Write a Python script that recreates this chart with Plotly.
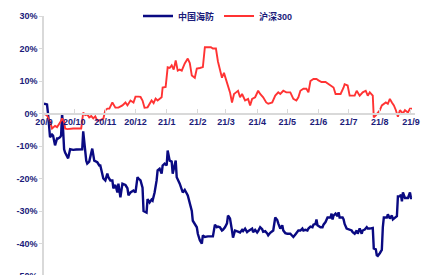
import plotly.graph_objects as go

hs300_dates = ["2020-09-01","2020-09-04","2020-09-07","2020-09-09","2020-09-12","2020-09-14","2020-09-17","2020-09-19","2020-09-21","2020-09-22","2020-09-24","2020-09-27","2020-09-30","2020-10-03","2020-10-06","2020-10-08","2020-10-10","2020-10-12","2020-10-14","2020-10-16","2020-10-18","2020-10-20","2020-10-22","2020-10-24","2020-10-27","2020-10-30","2020-11-01","2020-11-03","2020-11-05","2020-11-08","2020-11-11","2020-11-14","2020-11-18","2020-11-21","2020-11-23","2020-11-26","2020-11-29","2020-12-01","2020-12-04","2020-12-06","2020-12-08","2020-12-10","2020-12-13","2020-12-15","2020-12-17","2020-12-19","2020-12-21","2020-12-23","2020-12-25","2020-12-27","2020-12-28","2020-12-31","2021-01-02","2021-01-04","2021-01-06","2021-01-08","2021-01-10","2021-01-12","2021-01-14","2021-01-16","2021-01-19","2021-01-22","2021-01-24","2021-01-26","2021-01-29","2021-01-31","2021-02-03","2021-02-06","2021-02-08","2021-02-11","2021-02-14","2021-02-16","2021-02-19","2021-02-21","2021-02-23","2021-02-25","2021-02-27","2021-03-01","2021-03-03","2021-03-05","2021-03-07","2021-03-09","2021-03-11","2021-03-13","2021-03-15","2021-03-17","2021-03-20","2021-03-23","2021-03-25","2021-03-27","2021-03-30","2021-04-02","2021-04-04","2021-04-07","2021-04-10","2021-04-12","2021-04-14","2021-04-16","2021-04-19","2021-04-22","2021-04-24","2021-04-27","2021-04-30","2021-05-04","2021-05-07","2021-05-10","2021-05-12","2021-05-14","2021-05-17","2021-05-20","2021-05-22","2021-05-24","2021-05-27","2021-05-30","2021-06-01","2021-06-04","2021-06-08","2021-06-11","2021-06-13","2021-06-16","2021-06-18","2021-06-20","2021-06-23","2021-06-26","2021-06-27","2021-06-30","2021-07-02","2021-07-05","2021-07-07","2021-07-09","2021-07-12","2021-07-15","2021-07-18","2021-07-20","2021-07-22","2021-07-25","2021-07-26","2021-07-28","2021-07-30","2021-08-01","2021-08-03","2021-08-05","2021-08-07","2021-08-09","2021-08-11","2021-08-13","2021-08-15","2021-08-17","2021-08-19","2021-08-21","2021-08-23","2021-08-24","2021-08-26","2021-08-28","2021-08-29","2021-08-31","2021-09-02"]
hs300_values = [0,-0.6,-2.5,-4.6,-3.8,-4.2,-2.8,-1.5,-2.5,-4.6,-4.8,-4.6,-4.6,-4.6,-4.5,-4.6,0.3,-0.5,-0.3,-1.2,-0.8,-1.5,-0.9,-2.2,-2.0,-1.6,1.0,1.5,1.5,3.4,1.8,1.8,2.5,3.4,2.5,4.0,3.4,5.2,5.2,5.1,4.0,1.8,1.9,3.0,4.0,3.2,4.6,4.0,4.5,5.0,8.0,8.2,14.2,14.0,14.8,13.5,16.3,13.2,13.5,13.2,15.4,16.9,15.5,11.7,11.0,13.8,14.0,14.3,20.4,20.5,20.4,20.0,20.0,16.0,13.0,11.0,12.5,10.6,9.0,6.5,3.4,6.0,6.5,7.0,5.0,6.0,4.0,4.5,2.5,4.5,5.0,7.0,6.0,5.0,3.4,3.0,3.2,3.4,5.5,6.5,6.0,7.0,6.5,6.5,4.5,4.0,5.0,7.0,7.6,7.6,6.5,10.0,10.6,10.6,10.2,9.7,9.7,9.0,8.6,8.0,6.0,6.0,6.0,8.0,9.0,8.6,5.5,5.5,5.5,7.0,5.5,6.5,7.0,5.5,6.5,5.5,-1.2,-0.6,0.3,1.0,2.5,3.0,3.4,3.0,4.5,3.4,2.5,1.0,-1.0,1.0,0.5,0.0,1.0,0.6,0.3,1.5,1.5]

zghf_dates = ["2020-09-01","2020-09-03","2020-09-04","2020-09-05","2020-09-06","2020-09-07","2020-09-09","2020-09-10","2020-09-12","2020-09-14","2020-09-15","2020-09-17","2020-09-18","2020-09-19","2020-09-20","2020-09-21","2020-09-22","2020-09-24","2020-09-25","2020-09-27","2020-09-30","2020-10-03","2020-10-06","2020-10-09","2020-10-10","2020-10-11","2020-10-13","2020-10-14","2020-10-16","2020-10-19","2020-10-21","2020-10-24","2020-10-26","2020-10-27","2020-10-30","2020-11-01","2020-11-03","2020-11-04","2020-11-06","2020-11-08","2020-11-09","2020-11-11","2020-11-13","2020-11-14","2020-11-16","2020-11-18","2020-11-21","2020-11-23","2020-11-24","2020-11-26","2020-11-29","2020-12-01","2020-12-03","2020-12-04","2020-12-06","2020-12-08","2020-12-09","2020-12-12","2020-12-13","2020-12-15","2020-12-17","2020-12-18","2020-12-20","2020-12-22","2020-12-23","2020-12-25","2020-12-27","2020-12-28","2020-12-30","2021-01-01","2021-01-02","2021-01-04","2021-01-06","2021-01-07","2021-01-10","2021-01-11","2021-01-14","2021-01-17","2021-01-19","2021-01-21","2021-01-22","2021-01-26","2021-01-27","2021-01-31","2021-02-01","2021-02-03","2021-02-05","2021-02-06","2021-02-08","2021-02-11","2021-02-14","2021-02-16","2021-02-18","2021-02-20","2021-02-21","2021-02-23","2021-02-25","2021-02-26","2021-02-28","2021-03-02","2021-03-03","2021-03-05","2021-03-07","2021-03-08","2021-03-10","2021-03-13","2021-03-15","2021-03-17","2021-03-18","2021-03-20","2021-03-22","2021-03-23","2021-03-25","2021-03-27","2021-03-28","2021-03-30","2021-04-01","2021-04-02","2021-04-04","2021-04-06","2021-04-07","2021-04-09","2021-04-11","2021-04-12","2021-04-14","2021-04-16","2021-04-17","2021-04-19","2021-04-21","2021-04-22","2021-04-24","2021-04-26","2021-04-27","2021-04-29","2021-05-01","2021-05-04","2021-05-06","2021-05-07","2021-05-09","2021-05-11","2021-05-12","2021-05-14","2021-05-16","2021-05-17","2021-05-19","2021-05-21","2021-05-22","2021-05-24","2021-05-26","2021-05-27","2021-05-29","2021-05-30","2021-05-31","2021-06-03","2021-06-05","2021-06-06","2021-06-08","2021-06-10","2021-06-13","2021-06-14","2021-06-15","2021-06-16","2021-06-18","2021-06-20","2021-06-21","2021-06-22","2021-06-25","2021-06-26","2021-06-27","2021-06-29","2021-07-01","2021-07-04","2021-07-05","2021-07-07","2021-07-09","2021-07-10","2021-07-12","2021-07-14","2021-07-15","2021-07-17","2021-07-19","2021-07-20","2021-07-22","2021-07-24","2021-07-25","2021-07-26","2021-07-28","2021-07-29","2021-07-30","2021-08-01","2021-08-03","2021-08-04","2021-08-05","2021-08-08","2021-08-09","2021-08-11","2021-08-13","2021-08-14","2021-08-16","2021-08-18","2021-08-19","2021-08-21","2021-08-22","2021-08-23","2021-08-24","2021-08-26","2021-08-28","2021-08-29","2021-08-31","2021-09-01","2021-09-02"]
zghf_values = [3,3,2.8,0,-5.8,-7.3,-6.5,-6.8,-9.8,-7.7,-7.7,-7.3,-6.8,0,-5,-11,-12,-13,-13.8,-11,-11.2,-11.1,-11,-11,-5.5,-9,-14.5,-15.4,-14.8,-10.8,-14.5,-15,-16,-16,-20,-20.6,-18.5,-19.6,-20.6,-20.6,-23,-22,-24.3,-21.6,-25.8,-21.6,-22,-23,-25.2,-24.3,-23.7,-24.3,-19.6,-20,-20.6,-22.8,-30,-30.5,-26.3,-27.4,-26.5,-26.8,-24.3,-20.6,-17.5,-17,-18.5,-16,-15.4,-16,-11.4,-14.5,-14.8,-18.5,-14.5,-19.6,-21.6,-24.3,-23.5,-24.6,-25.2,-30,-33,-35,-37,-39,-40,-37.5,-38,-37.8,-37.8,-37.8,-34.2,-35,-34.8,-35,-36,-35.8,-35,-33.8,-31.4,-32.3,-36,-38.2,-36,-36.3,-36.6,-35.8,-36.2,-35.4,-36.5,-36.2,-35.8,-35.4,-36.5,-35.8,-36.6,-36.2,-35,-35.6,-36.4,-36.2,-36.9,-37.5,-36.7,-36.4,-36,-32,-32.8,-33.8,-35.4,-34.4,-36,-36.8,-37,-37,-37.8,-38,-37.2,-36.5,-36,-36,-35.4,-36,-35.8,-36,-35.4,-34.8,-35,-34.2,-34,-32.6,-34.4,-35,-35,-34.2,-33.4,-32,-32,-30.8,-32.6,-31.4,-30.8,-31.6,-30.4,-32,-32,-32.6,-34,-35.4,-35.6,-36,-36.5,-37,-36,-37,-35.4,-37,-36,-35.7,-35,-35.4,-35.4,-35.2,-35.2,-41.5,-41.8,-43.6,-43.8,-43,-42,-35,-32,-32,-31,-32.3,-31.4,-32.6,-32,-31.6,-25.5,-25.5,-25,-27,-24.3,-26,-26,-26,-24.3,-26,-26]

series_names = ["中国海防", "沪深300"]
series_colors = ["#0A0A82", "#FF3333"]

y_tick_vals = [30, 20, 10, 0, -10, -20, -30, -40, -50]
y_tick_text = ["30%", "20%", "10%", "0%", "-10%", "-20%", "-30%", "-40%", "-50%"]

TXT = "#1B1B7A"
FONT = "Liberation Sans, Arial, Noto Sans CJK SC, sans-serif"

fig = go.Figure()
fig.add_trace(go.Scatter(x=zghf_dates, y=zghf_values, mode="lines", name=series_names[0],
                         line=dict(color=series_colors[0], width=2.4)))
fig.add_trace(go.Scatter(x=hs300_dates, y=hs300_values, mode="lines", name=series_names[1],
                         line=dict(color=series_colors[1], width=1.9)))

fig.update_layout(
    width=425, height=276,
    margin=dict(l=36, r=18, t=8, b=8, autoexpand=False),
    paper_bgcolor="white", plot_bgcolor="white",
    font=dict(family=FONT, size=9, color=TXT, weight="bold"),
    showlegend=True,
    legend=dict(orientation="h", x=0.469, xanchor="center",
                yref="container", y=0.971, yanchor="middle",
                font=dict(size=9, color=TXT, family=FONT, weight="bold"),
                bgcolor="rgba(255,255,255,0)", itemwidth=30, tracegroupgap=0),
    xaxis=dict(type="date", range=["2020-09-01", "2021-09-05"],
               tick0="2020-09-01", dtick="M1", tickformat="%y/%-m",
               anchor="free", position=0.625,
               showline=True, linecolor="#D9D9D9", linewidth=1.5,
               ticks="inside", ticklen=4, tickcolor="#D9D9D9",
               showgrid=False, zeroline=False,
               tickfont=dict(size=9, color=TXT, family=FONT, weight="bold")),
    yaxis=dict(range=[-50, 30], tickvals=y_tick_vals, ticktext=y_tick_text,
               showline=True, linecolor="#D9D9D9", linewidth=1.5,
               ticks="outside", ticklen=3, tickcolor="#D9D9D9",
               showgrid=False, zeroline=False,
               tickfont=dict(size=9, color=TXT, family=FONT, weight="bold")),
)

fig.write_html("out.html")
